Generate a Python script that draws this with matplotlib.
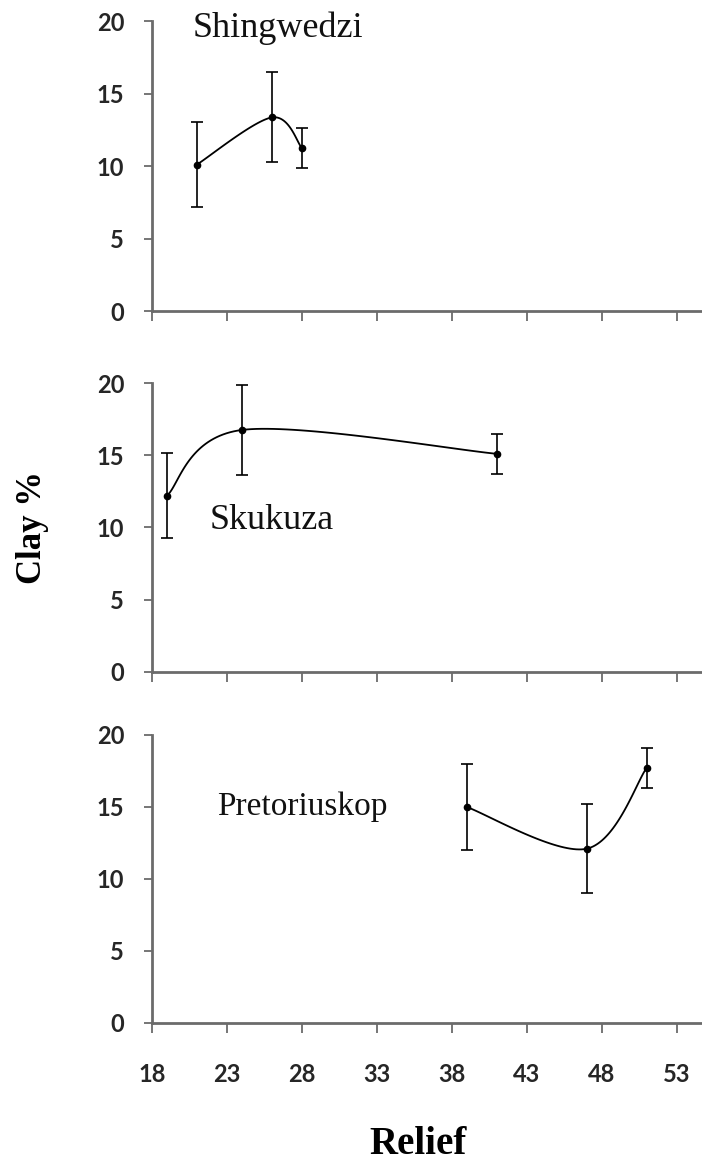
#!/usr/bin/env python3
"""
Clay % against relief for three sites, Excel-style smoothed lines with error bars.
"""

import numpy as np
import matplotlib
matplotlib.use('Agg')
import matplotlib.pyplot as plt

# values
sites = ['Shingwedzi', 'Skukuza', 'Pretoriuskop']
relief = [[21, 26, 28], [19, 24, 41], [39, 47, 51]]
clay = [[10.1, 13.35, 11.25], [12.2, 16.75, 15.1], [15.0, 12.1, 17.7]]
clay_err = [[2.95, 3.1, 1.38], [2.95, 3.1, 1.4], [3.0, 3.1, 1.37]]
label_pos = [(26.4, 19.5), (26.0, 10.5), (28.0, 15.0)]
label_size = [26, 26, 24]
xticks = [18, 23, 28, 33, 38, 43, 48, 53]
yticks = [0, 5, 10, 15, 20]

SPINE = '#6b6b6b'
TICKCOL = '#262626'


def excel_smooth(x, y, sx=15.0, sy=14.45, n=40):
    # Bezier smoothing like Excel's "smoothed line", done in screen-ish units
    px = np.asarray(x, float) * sx
    py = np.asarray(y, float) * sy
    P = np.column_stack([px, py])
    P = np.vstack([P[0], P, P[-1]])
    out = []
    t = np.linspace(0, 1, n)[:, None]
    for i in range(1, len(P) - 2):
        p0, p1, p2, p3 = P[i - 1], P[i], P[i + 1], P[i + 2]
        c1 = p1 + (p2 - p0) / 6.0
        c2 = p2 - (p3 - p1) / 6.0
        seg = ((1 - t) ** 3 * p1 + 3 * (1 - t) ** 2 * t * c1
               + 3 * (1 - t) * t ** 2 * c2 + t ** 3 * p2)
        out.append(seg)
    pts = np.vstack(out)
    return pts[:, 0] / sx, pts[:, 1] / sy


def style_axis(ax, show_xlabels):
    for side in ('top', 'right'):
        ax.spines[side].set_visible(False)
    for side in ('left', 'bottom'):
        ax.spines[side].set_color(SPINE)
        ax.spines[side].set_linewidth(2.0)
    ax.set_xlim(18, 54.7)
    ax.set_ylim(0, 20)
    ax.set_xticks(xticks)
    ax.set_yticks(yticks)
    ax.tick_params(axis='y', direction='out', length=6, width=1.3, color=SPINE,
                   pad=14, labelsize=17, labelcolor=TICKCOL)
    ax.tick_params(axis='x', direction='out', length=7, width=1.3, color=SPINE,
                   pad=22, labelsize=17, labelcolor=TICKCOL)
    for lab in ax.get_yticklabels() + ax.get_xticklabels():
        lab.set_family('Lato')
        lab.set_fontweight('bold')
    if not show_xlabels:
        ax.set_xticklabels([])


def main():
    fig = plt.figure(figsize=(7.02, 11.67), dpi=100)
    left, width = 0.2165, 1.0 - 0.2165
    boxes = [(0.7335, 0.982 - 0.7335), (0.4242, 0.6718 - 0.4242), (0.1234, 0.3702 - 0.1234)]

    for i, site in enumerate(sites):
        bottom, height = boxes[i]
        ax = fig.add_axes([left, bottom, width, height])
        sx, sy = excel_smooth(relief[i], clay[i])
        ax.plot(sx, sy, color='black', lw=1.3, clip_on=False)
        ax.errorbar(relief[i], clay[i], yerr=clay_err[i], fmt='o', color='black',
                    ms=4.5, elinewidth=1.2, capsize=4, capthick=1.2, clip_on=False)
        ax.text(label_pos[i][0], label_pos[i][1], site, ha='center', va='center',
                fontsize=label_size[i], family='Liberation Serif', color='#111111')
        style_axis(ax, show_xlabels=(i == len(sites) - 1))

    fig.text(0.047, 0.548, 'Clay %', rotation=90, ha='center', va='center',
             fontsize=25, fontweight='bold', family='Liberation Serif')
    fig.text(0.595, 0.019, 'Relief', ha='center', va='center',
             fontsize=28, fontweight='bold', family='Liberation Serif')

    fig.savefig('out.png', dpi=100, facecolor='white')


if __name__ == '__main__':
    main()
